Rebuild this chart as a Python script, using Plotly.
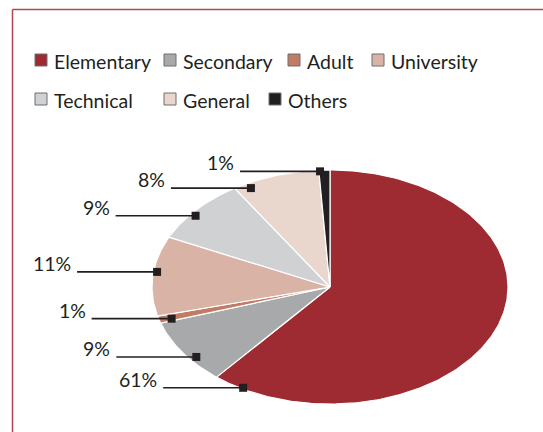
import numpy as np
import plotly.graph_objects as go

# --- Datos ---
categorias = ["Elementary", "Secondary", "Adult", "University", "Technical", "General", "Others"]
porcentajes = [61, 9, 1, 11, 9, 8, 1]
etiquetas = ["61%", "9%", "1%", "11%", "9%", "8%", "1%"]
colores = ["#9e2b32", "#a7a9aa", "#c17c66", "#d9b4a6", "#d0d1d3", "#e9d7ce", "#231f20"]

# --- Layout (pixeles) ---
W, H = 543, 432
CX, CY, RX, RY = 330, 287, 178, 117  # centro y radios del pie (px)
# donde se ancla cada etiqueta (fraccion de vuelta, radio relativo)
ancla_frac = [0.582, 0.643, 0.703, 0.771, 0.858, 0.923, 0.991]
ancla_r = [0.99, 0.96, 0.93, 0.98, 0.97, 0.955, 0.99]
LEADER = 80 / RX  # largo de la linea guia (en unidades de datos)
# leyenda: (x cuadrado, y centro) por item
leyenda_pos = [(35, 60), (164, 60), (288, 60), (372, 60), (35, 99), (164, 99), (269, 99)]

FONT = "Lato"
FS = 19.5
TXT = "#231f20"

fig = go.Figure()

# --- Porciones (pie eliptico: circulo unitario escalado por los ejes) ---
total = sum(porcentajes)
inicio = 0.0
for cat, val, col in zip(categorias, porcentajes, colores):
    fin = inicio + val / total
    t = np.linspace(inicio, fin, max(int(val * 4), 8)) * 2 * np.pi
    xs = np.concatenate([[0], np.sin(t), [0]])
    ys = np.concatenate([[0], np.cos(t), [0]])
    fig.add_trace(go.Scatter(x=xs, y=ys, mode="lines", fill="toself", fillcolor=col,
                             line=dict(color="white", width=1.2), name=cat,
                             showlegend=False, hoverinfo="name"))
    inicio = fin

# --- Lineas guia, marcadores y etiquetas ---
for lab, f, r in zip(etiquetas, ancla_frac, ancla_r):
    ax = r * np.sin(f * 2 * np.pi)
    ay = r * np.cos(f * 2 * np.pi)
    fig.add_trace(go.Scatter(x=[ax - LEADER, ax], y=[ay, ay], mode="lines",
                             line=dict(color=TXT, width=1.6), showlegend=False, hoverinfo="skip"))
    fig.add_trace(go.Scatter(x=[ax], y=[ay], mode="markers",
                             marker=dict(symbol="square", size=8, color=TXT), showlegend=False,
                             hoverinfo="skip"))
    fig.add_annotation(x=ax - LEADER, y=ay, text=lab, showarrow=False, xanchor="right",
                       yanchor="bottom", xshift=-4, yshift=-5,
                       font=dict(family=FONT, size=FS, color=TXT))

# --- Leyenda manual ---
for cat, col, (lx, ly) in zip(categorias, colores, leyenda_pos):
    fig.add_shape(type="rect", xref="paper", yref="paper",
                  x0=lx / W, x1=(lx + 12) / W, y0=1 - (ly + 6) / H, y1=1 - (ly - 6) / H,
                  fillcolor=col, line=dict(color="#6d6e70", width=1))
    fig.add_annotation(x=(lx + 17) / W, y=1 - (ly + 1) / H, xref="paper", yref="paper",
                       text=cat, showarrow=False, xanchor="left", yanchor="middle",
                       font=dict(family=FONT, size=FS, color=TXT))

# --- Marco ---
BORDE = "#b2474e"
fig.add_shape(type="line", xref="paper", yref="paper", x0=12.5 / W, x1=1, y0=1 - 9.5 / H, y1=1 - 9.5 / H,
              line=dict(color=BORDE, width=1.5))
fig.add_shape(type="line", xref="paper", yref="paper", x0=12.5 / W, x1=12.5 / W, y0=0, y1=1 - 9.5 / H,
              line=dict(color=BORDE, width=1.5))

fig.update_layout(
    width=W, height=H, autosize=False,
    margin=dict(l=0, r=0, t=0, b=0),
    paper_bgcolor="white", plot_bgcolor="white",
    xaxis=dict(range=[-CX / RX, (W - CX) / RX], visible=False, fixedrange=True),
    yaxis=dict(range=[-(H - CY) / RY, CY / RY], visible=False, fixedrange=True),
    showlegend=False,
)

fig.write_html("out.html", config={"displayModeBar": False},
               post_script="document.body.style.margin='0px';")
